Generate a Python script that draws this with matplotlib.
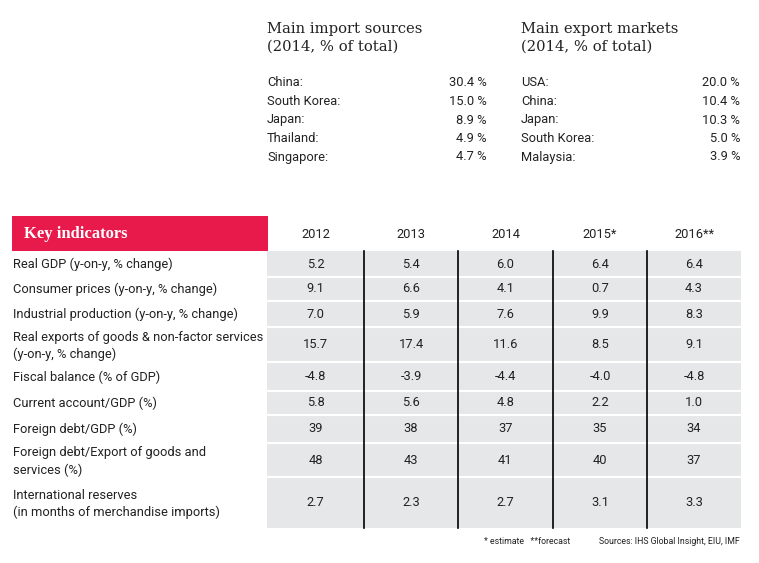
import matplotlib
matplotlib.use("Agg")
import matplotlib.pyplot as plt
from matplotlib.patches import Rectangle

# ---- data ----
import_countries = ["China:", "South Korea:", "Japan:", "Thailand:", "Singapore:"]
import_shares = ["30.4 %", "15.0 %", "8.9 %", "4.9 %", "4.7 %"]
export_countries = ["USA:", "China:", "Japan:", "South Korea:", "Malaysia:"]
export_shares = ["20.0 %", "10.4 %", "10.3 %", "5.0 %", "3.9 %"]

years = ["2012", "2013", "2014", "2015*", "2016**"]
indicators = [
    "Real GDP (y-on-y, % change)",
    "Consumer prices (y-on-y, % change)",
    "Industrial production (y-on-y, % change)",
    "Real exports of goods & non-factor services\n(y-on-y, % change)",
    "Fiscal balance (% of GDP)",
    "Current account/GDP (%)",
    "Foreign debt/GDP (%)",
    "Foreign debt/Export of goods and\nservices (%)",
    "International reserves\n(in months of merchandise imports)",
]
values = [
    ["5.2", "5.4", "6.0", "6.4", "6.4"],
    ["9.1", "6.6", "4.1", "0.7", "4.3"],
    ["7.0", "5.9", "7.6", "9.9", "8.3"],
    ["15.7", "17.4", "11.6", "8.5", "9.1"],
    ["-4.8", "-3.9", "-4.4", "-4.0", "-4.8"],
    ["5.8", "5.6", "4.8", "2.2", "1.0"],
    ["39", "38", "37", "35", "34"],
    ["48", "43", "41", "40", "37"],
    ["2.7", "2.3", "2.7", "3.1", "3.3"],
]

# ---- layout (pixels) ----
row_edges = [251, 277, 301, 327, 362, 391, 415, 443, 477, 528]
col_edges = [267, 364, 458, 553, 647, 741]
RED = "#E8194B"
GREY = "#E6E7E8"
TXT = "#222222"
sans = ["Roboto", "DejaVu Sans"]
serif = ["DejaVu Serif"]
FS = 9.3

fig = plt.figure(figsize=(7.59, 5.63), dpi=100)
ax = fig.add_axes([0, 0, 1, 1])
ax.set_xlim(0, 759)
ax.set_ylim(563, 0)
ax.axis("off")

# top lists
for x0, x1, title, names, shares in [
    (267, 487, "Main import sources\n(2014, % of total)", import_countries, import_shares),
    (521, 740, "Main export markets\n(2014, % of total)", export_countries, export_shares),
]:
    ax.text(x0, 38, title, family=serif, fontsize=10.6, va="center",
            ha="left", linespacing=1.3, color=TXT)
    for i, (n, s) in enumerate(zip(names, shares)):
        y = 83 + i * 18.5
        ax.text(x0, y, n, family=sans, fontsize=FS, va="center", ha="left", color=TXT)
        ax.text(x1, y, s, family=sans, fontsize=FS, va="center", ha="right", color=TXT)

# header
ax.add_patch(Rectangle((12, 216), 256, 35, color=RED, lw=0))
ax.text(24, 234, "Key indicators", family=["Liberation Serif"], fontsize=12,
        fontweight="bold", color="white", va="center", ha="left")
for j, yr in enumerate(years):
    xc = (col_edges[j] + col_edges[j + 1]) / 2
    ax.text(xc, 235, yr, family=sans, fontsize=FS, va="center", ha="center", color=TXT)

# grey body
ax.add_patch(Rectangle((col_edges[0], row_edges[0]), col_edges[-1] - col_edges[0],
                       row_edges[-1] - row_edges[0], color=GREY, lw=0))
for y in row_edges[1:-1]:
    ax.plot([col_edges[0], col_edges[-1]], [y, y], color="white", lw=1.5)
for x in col_edges[1:-1]:
    ax.plot([x, x], [row_edges[0], row_edges[-1]], color="black", lw=1.2)

for i, (lab, row) in enumerate(zip(indicators, values)):
    yc = (row_edges[i] + row_edges[i + 1]) / 2
    two = "\n" in lab
    ax.text(13, yc + (1.5 if two else 0.5), lab, family=sans, fontsize=FS,
            va="center", ha="left", linespacing=1.35, color=TXT)
    for j, v in enumerate(row):
        xc = (col_edges[j] + col_edges[j + 1]) / 2
        ax.text(xc, yc, v, family=sans, fontsize=FS, va="center", ha="center", color=TXT)

# footnotes
ax.text(484, 542, "* estimate   **forecast", family=sans, fontsize=6.3, va="center",
        ha="left", color=TXT)
ax.text(740, 542, "Sources: IHS Global Insight, EIU, IMF", family=sans, fontsize=6.3,
        va="center", ha="right", color=TXT)

fig.savefig("out.png", dpi=100)
